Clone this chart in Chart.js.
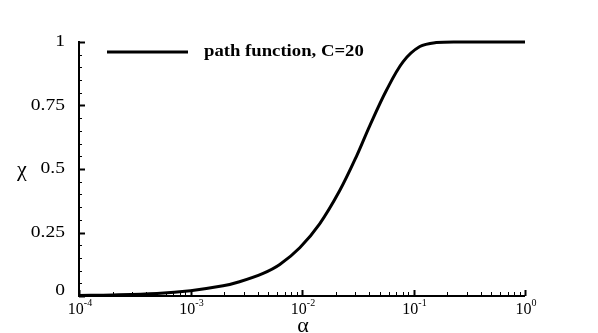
<!DOCTYPE html>
<html>
<head>
<meta charset="utf-8">
<script src="https://cdn.jsdelivr.net/npm/chart.js@4/dist/chart.umd.min.js"></script>
<style>
  body { margin: 0; background: #fff; }
  #chart { display: block; }
</style>
</head>
<body>
<canvas id="chart" width="598" height="333"></canvas>
<script>
// values
const alphaValues = [1e-4, 2e-4, 5e-4, 0.001, 0.00196, 0.00275, 0.00448, 0.00632, 0.00955, 0.0144, 0.0218, 0.0308, 0.0405, 0.0572, 0.0805, 0.114, 0.16, 0.25, 0.5, 1];
const chiValues = [0.002, 0.004, 0.01, 0.021, 0.04, 0.056, 0.089, 0.124, 0.19, 0.284, 0.415, 0.55, 0.67, 0.81, 0.922, 0.982, 0.998, 1, 1, 1];
const seriesLabel = 'path function, C=20';

const xTicks = [1e-4, 1e-3, 1e-2, 1e-1, 1];
const xTickExponents = ['-4', '-3', '-2', '-1', '0'];
const yTicks = [0, 0.25, 0.5, 0.75, 1];
const yTickLabels = ['0', '0.25', '0.5', '0.75', '1'];

const serif = '"Liberation Serif", "Times New Roman", serif';

// text a little wider than the font, like the reference
function wideText(ctx, text, x, y, sx) {
    ctx.save();
    ctx.translate(x, y);
    ctx.scale(sx, 1);
    ctx.fillText(text, 0, 0);
    ctx.restore();
}

// axes, inward ticks, labels and legend drawn by hand
const axesPlugin = {
    id: 'tecplotAxes',
    afterDraw(chart) {
        const ctx = chart.ctx;
        const x = chart.scales.x;
        const y = chart.scales.y;
        const area = chart.chartArea;
        ctx.save();
        ctx.strokeStyle = '#000';
        ctx.fillStyle = '#000';

        // axis lines
        ctx.lineWidth = 2;
        ctx.beginPath();
        ctx.moveTo(area.left, area.top - 1);
        ctx.lineTo(area.left, area.bottom);
        ctx.lineTo(area.right, area.bottom);
        ctx.stroke();

        // y ticks
        for (let v = 0; v <= 1.0001; v += 0.05) {
            const py = Math.round(y.getPixelForValue(v)) + 0.5;
            const major = Math.abs(v * 4 - Math.round(v * 4)) < 1e-6;
            ctx.lineWidth = major ? 2 : 1;
            ctx.beginPath();
            ctx.moveTo(area.left, py);
            ctx.lineTo(area.left + (major ? 6 : 3), py);
            ctx.stroke();
        }

        // x ticks, majors and 2..9 minors
        for (let d = -4; d <= 0; d++) {
            for (let m = 1; m <= 9; m++) {
                const v = m * Math.pow(10, d);
                if (v > 1.0001) break;
                const px = Math.round(x.getPixelForValue(v)) + 0.5;
                const major = m === 1;
                ctx.lineWidth = major ? 2 : 1;
                ctx.beginPath();
                ctx.moveTo(px, area.bottom);
                ctx.lineTo(px, area.bottom - (major ? 6 : 4));
                ctx.stroke();
            }
        }

        // y tick labels
        ctx.font = '16px ' + serif;
        ctx.textAlign = 'right';
        ctx.textBaseline = 'middle';
        yTicks.forEach((v, i) => {
            let py = y.getPixelForValue(v);
            if (v === 0) py -= 5;
            wideText(ctx, yTickLabels[i], area.left - 14, py, 1.22);
        });

        // x tick labels with superscript exponents
        ctx.textBaseline = 'alphabetic';
        xTicks.forEach((v, i) => {
            const px = x.getPixelForValue(v);
            ctx.font = '16px ' + serif;
            const baseW = ctx.measureText('10').width;
            ctx.font = '10px ' + serif;
            const expW = ctx.measureText(xTickExponents[i]).width;
            const start = px - (baseW + expW) / 2 + 1;
            ctx.textAlign = 'left';
            ctx.font = '16px ' + serif;
            ctx.fillText('10', start, area.bottom + 18);
            ctx.font = '10px ' + serif;
            ctx.fillText(xTickExponents[i], start + baseW, area.bottom + 10);
        });

        // axis titles
        ctx.font = '22px ' + serif;
        ctx.textAlign = 'center';
        ctx.textBaseline = 'middle';
        ctx.fillText('\u03c7', 22, (area.top + area.bottom) / 2 + 1);
        ctx.fillText('\u03b1', 303, area.bottom + 30);

        // legend
        ctx.lineWidth = 3;
        ctx.beginPath();
        ctx.moveTo(107, 52);
        ctx.lineTo(188, 52);
        ctx.stroke();
        ctx.font = 'bold 17px ' + serif;
        ctx.textAlign = 'left';
        wideText(ctx, seriesLabel, 204, 52, 1.1);

        ctx.restore();
    }
};

new Chart(document.getElementById('chart'), {
    type: 'line',
    data: {
        datasets: [{
            label: seriesLabel,
            data: alphaValues.map((a, i) => ({ x: a, y: chiValues[i] })),
            borderColor: '#000',
            borderWidth: 3,
            pointRadius: 0,
            tension: 0.35,
            clip: false
        }]
    },
    options: {
        responsive: false,
        animation: false,
        layout: { padding: { left: 79, right: 73, top: 42, bottom: 37 } },
        plugins: {
            legend: { display: false },
            tooltip: { enabled: false }
        },
        scales: {
            x: { type: 'logarithmic', min: 1e-4, max: 1, display: false },
            y: { type: 'linear', min: 0, max: 1, display: false }
        }
    },
    plugins: [axesPlugin]
});
</script>
</body>
</html>
